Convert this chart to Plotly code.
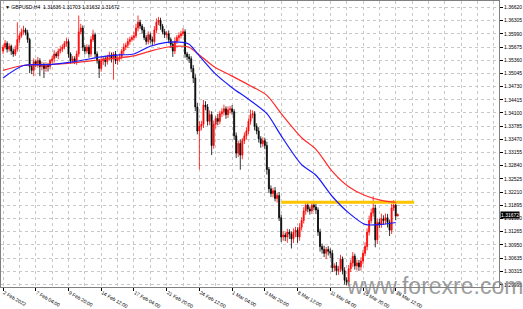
import plotly.graph_objects as go

# ---------------- data ----------------
closes = [
    1.35670, 1.35762, 1.35624, 1.35693, 1.35578, 1.35509, 1.35624, 1.35854, 1.35946, 1.36038,
    1.36084, 1.36015, 1.35854, 1.35210, 1.35118, 1.35325, 1.35279, 1.35348, 1.35210, 1.35256,
    1.35164, 1.35233, 1.35210, 1.35348, 1.35394, 1.35509, 1.35463, 1.35578, 1.35624, 1.35670,
    1.35762, 1.35808, 1.35509, 1.35348, 1.35394, 1.35348, 1.35509, 1.36038, 1.36130, 1.35670,
    1.35578, 1.35670, 1.35509, 1.35854, 1.35969, 1.35509, 1.35348, 1.35164, 1.35348, 1.35394,
    1.35325, 1.35440, 1.35486, 1.35394, 1.35509, 1.35348, 1.35394, 1.35440, 1.35578, 1.35670,
    1.35716, 1.35808, 1.35854, 1.35900, 1.35946, 1.36130, 1.36268, 1.36176, 1.36084, 1.35900,
    1.35808, 1.35969, 1.35854, 1.35808, 1.36084, 1.36268, 1.36314, 1.36176, 1.36038, 1.35969,
    1.35992, 1.35854, 1.35739, 1.35578, 1.35808, 1.35900, 1.35946, 1.35992, 1.36038, 1.35509,
    1.35440, 1.35394, 1.35164, 1.34934, 1.34244, 1.33669, 1.33784, 1.33830, 1.34290, 1.34244,
    1.33899, 1.34060, 1.33324, 1.33830, 1.33968, 1.33899, 1.34083, 1.34129, 1.34198, 1.34060,
    1.34175, 1.34198, 1.34129, 1.33554, 1.33140, 1.33370, 1.33094, 1.33439, 1.33554, 1.33669,
    1.33899, 1.34060, 1.34083, 1.33784, 1.33669, 1.33485, 1.33370, 1.33439, 1.33324, 1.32749,
    1.32289, 1.32174, 1.32243, 1.32059, 1.32128, 1.31599, 1.31139, 1.31185, 1.31139, 1.31254,
    1.31208, 1.31093, 1.31254, 1.31300, 1.31139, 1.31369, 1.31530, 1.31760, 1.31898, 1.31806,
    1.31760, 1.31898, 1.31852, 1.31783, 1.31254, 1.30909, 1.30840, 1.30748, 1.30840, 1.30794,
    1.30748, 1.30403, 1.30449, 1.30334, 1.30380, 1.30610, 1.30334, 1.30104, 1.30058, 1.30380,
    1.30518, 1.30679, 1.30449, 1.30518, 1.30426, 1.30564, 1.30748, 1.30909, 1.31254, 1.31530,
    1.31714, 1.31829, 1.31070, 1.31484, 1.31438, 1.31576, 1.31530, 1.31599, 1.31484, 1.31300,
    1.31829, 1.31898, 1.31636, 1.31672,
]
first_open = 1.35578
upper_wick_pips = [
    6, 8, 5, 7, 4, 6, 9, 41, 6, 8,
    10, 5, 7, 4, 6, 8, 5, 9, 6, 7,
    5, 8, 6, 4, 7, 9, 5, 6, 8, 7,
    6, 9, 5, 4, 7, 6, 8, 39, 10, 6,
    5, 7, 6, 8, 12, 5, 6, 4, 9, 6,
    7, 5, 8, 6, 5, 7, 6, 8, 5, 9,
    6, 8, 7, 5, 9, 10, 16, 6, 5, 7,
    6, 8, 5, 7, 9, 9, 8, 6, 5, 7,
    6, 8, 5, 7, 10, 6, 8, 7, 9, 6,
    5, 7, 6, 8, 9, 10, 12, 8, 12, 9,
    7, 10, 8, 9, 6, 11, 7, 8, 10, 6,
    8, 7, 9, 6, 8, 7, 10, 6, 8, 9,
    7, 12, 8, 6, 7, 9, 6, 8, 7, 9,
    6, 8, 7, 9, 6, 8, 7, 9, 6, 8,
    7, 6, 9, 8, 7, 10, 8, 9, 7, 8,
    6, 10, 7, 8, 6, 8, 7, 9, 6, 8,
    7, 8, 6, 9, 7, 10, 6, 8, 7, 9,
    8, 10, 6, 8, 7, 9, 8, 10, 9, 12,
    10, 28, 8, 10, 9, 12, 8, 10, 9, 7,
    10, 12, 8, 3,
]
lower_wick_pips = [
    7, 5, 8, 6, 9, 7, 5, 6, 8, 5,
    7, 6, 8, 16, 9, 14, 8, 10, 23, 9,
    23, 8, 12, 7, 6, 9, 5, 8, 6, 7,
    5, 8, 9, 7, 6, 8, 10, 7, 6, 9,
    8, 6, 9, 7, 6, 8, 7, 23, 8, 10,
    12, 7, 8, 9, 50, 8, 10, 7, 6, 8,
    7, 6, 8, 5, 7, 6, 8, 7, 9, 6,
    8, 7, 9, 10, 6, 8, 7, 9, 6, 8,
    7, 9, 8, 14, 7, 6, 8, 7, 6, 9,
    8, 10, 9, 12, 10, 8, 92, 10, 9, 8,
    10, 9, 23, 8, 10, 9, 7, 8, 9, 10,
    8, 9, 7, 10, 12, 9, 35, 10, 8, 9,
    7, 8, 9, 10, 8, 9, 10, 8, 9, 12,
    10, 8, 9, 7, 10, 8, 12, 9, 10, 14,
    12, 23, 10, 12, 14, 9, 8, 7, 9, 8,
    9, 7, 8, 10, 9, 12, 10, 9, 14, 10,
    12, 10, 9, 11, 10, 8, 9, 10, 7, 9,
    8, 10, 9, 11, 10, 9, 8, 7, 9, 8,
    7, 9, 18, 10, 9, 8, 10, 9, 12, 14,
    9, 7, 10, 0,
]

# moving averages (sampled along the chart)
ma_red_bars = [0, 10, 23, 35, 48, 57, 64, 72, 80, 88, 91, 96, 103, 112, 120, 129, 136, 146, 153, 161, 169, 177, 185, 192]
ma_red = [1.35118, 1.35233, 1.35256, 1.35302, 1.35371, 1.35417, 1.35463, 1.35578, 1.35670, 1.35693,
          1.35670, 1.35486, 1.35210, 1.34980, 1.34773, 1.34520, 1.34083, 1.33508, 1.33232, 1.32703,
          1.32335, 1.32128, 1.32013, 1.31967]
ma_blue_bars = [0, 10, 23, 35, 48, 57, 64, 72, 80, 88, 91, 96, 104, 112, 120, 129, 136, 146, 153, 161, 169, 177, 185, 192]
ma_blue = [1.34934, 1.35233, 1.35256, 1.35325, 1.35440, 1.35486, 1.35509, 1.35693, 1.35785, 1.35785,
           1.35739, 1.35463, 1.35026, 1.34704, 1.34428, 1.34083, 1.33554, 1.32864, 1.32611, 1.32105,
           1.31714, 1.31438, 1.31438, 1.31484]

resistance_level = 1.31967
resistance_from_bar = 136
resistance_to_bar = 201

time_tick_bars = [0, 16, 32, 48, 64, 80, 96, 112, 128, 144, 160, 176, 192]
time_tick_labels = ["2 Feb 2022", "7 Feb 04:00", "9 Feb 20:00", "14 Feb 12:00", "17 Feb 04:00",
                    "21 Feb 20:00", "24 Feb 12:00", "1 Mar 04:00", "3 Mar 20:00", "8 Mar 12:00",
                    "11 Mar 04:00", "15 Mar 20:00", "18 Mar 12:00"]
price_tick_labels = ["1.36620", "1.36305", "1.35990", "1.35675", "1.35360", "1.35045", "1.34730",
                     "1.34415", "1.34100", "1.33785", "1.33470", "1.33155", "1.32840", "1.32525",
                     "1.32210", "1.31895", "1.31580", "1.31265", "1.30950", "1.30635", "1.30315",
                     "1.29995"]
price_ticks = [float(s) for s in price_tick_labels]
last_price = 1.31672
header_text = "GBPUSD,H4  1.31636 1.31703 1.31632 1.31672"
watermark = "www.forexre.com"

# ---------------- derived candle arrays ----------------
pip = 0.0001
opens = [first_open] + closes[:-1]
highs = [max(o, c) + u * pip for o, c, u in zip(opens, closes, upper_wick_pips)]
lows = [min(o, c) - w * pip for o, c, w in zip(opens, closes, lower_wick_pips)]
bars = list(range(len(closes)))

fig = go.Figure()
fig.add_trace(go.Candlestick(
    x=bars, open=opens, high=highs, low=lows, close=closes,
    increasing=dict(line=dict(color="#ff0000", width=0.8), fillcolor="#ff0000"),
    decreasing=dict(line=dict(color="#000000", width=0.8), fillcolor="#000000"),
    whiskerwidth=0, showlegend=False, hoverinfo="skip",
))
fig.add_trace(go.Scatter(
    x=[resistance_from_bar, resistance_to_bar], y=[resistance_level, resistance_level],
    mode="lines", line=dict(color="#ffc400", width=3), showlegend=False, hoverinfo="skip",
))
fig.add_trace(go.Scatter(
    x=ma_red_bars, y=ma_red, mode="lines",
    line=dict(color="#ff2a2a", width=1.2, shape="spline", smoothing=0.8),
    showlegend=False, hoverinfo="skip",
))
fig.add_trace(go.Scatter(
    x=ma_blue_bars, y=ma_blue, mode="lines",
    line=dict(color="#1a1aff", width=1.2, shape="spline", smoothing=0.8),
    showlegend=False, hoverinfo="skip",
))

grid_col = "#c8c8c8"
fig.update_layout(
    width=523, height=309,
    margin=dict(l=0, r=24, t=0, b=12),
    paper_bgcolor="white", plot_bgcolor="white",
    font=dict(family="Liberation Sans", size=5, color="black"),
    showlegend=False,
    xaxis=dict(
        range=[-1, 242.5], tickmode="array", tickvals=time_tick_bars, ticktext=time_tick_labels,
        ticks="outside", ticklen=3, tickcolor="black", tickwidth=1,
        ticklabelposition="outside right", tickfont=dict(size=5),
        showgrid=True, gridcolor=grid_col, griddash="dot", gridwidth=1,
        minor=dict(tickmode="linear", tick0=0, dtick=8, showgrid=True, gridcolor=grid_col,
                   griddash="dot", gridwidth=1, ticks=""),
        showline=True, linecolor="#808080", linewidth=1, mirror=True,
        zeroline=False, rangeslider=dict(visible=False), fixedrange=True,
    ),
    yaxis=dict(
        side="right", range=[1.29943, 1.36774], tickmode="array",
        tickvals=price_ticks, ticktext=price_tick_labels,
        ticks="outside", ticklen=3, tickcolor="black", tickwidth=1, tickfont=dict(size=5),
        showgrid=True, gridcolor=grid_col, griddash="dot", gridwidth=1,
        showline=True, linecolor="#808080", linewidth=1, mirror=True,
        zeroline=False, fixedrange=True,
    ),
    annotations=[
        dict(text="\u25bc " + header_text, xref="paper", yref="paper", x=0, y=1,
             xanchor="left", yanchor="top", xshift=2, yshift=-1, showarrow=False,
             font=dict(size=5, color="black")),
        dict(text=f"{last_price:.5f}", xref="paper", yref="y", x=1, y=last_price,
             xanchor="left", yanchor="middle", xshift=1, showarrow=False,
             bgcolor="black", borderpad=0, font=dict(size=5, color="white")),
        dict(text=watermark, xref="paper", yref="paper", x=344 / 499, y=0.003,
             xanchor="left", yanchor="middle", showarrow=False,
             font=dict(size=23, color="rgba(130,130,130,0.8)", family="Liberation Sans")),
    ],
)

fig.write_html("out.html")
